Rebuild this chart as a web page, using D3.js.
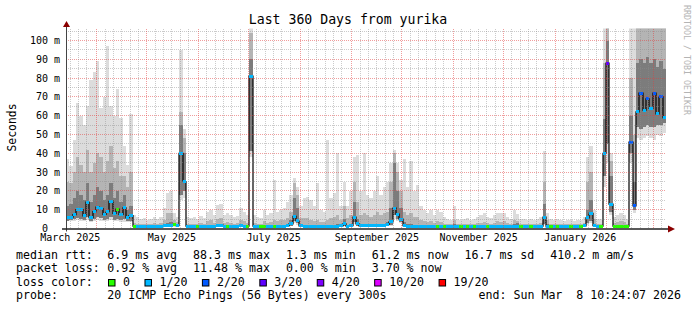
<!DOCTYPE html>
<html><head><meta charset="utf-8">
<script src="https://cdn.jsdelivr.net/npm/d3@7/dist/d3.min.js"></script>
<style>
html,body{margin:0;padding:0;background:#fff;}
svg{display:block;}
text{font-family:"DejaVu Sans Mono",monospace;fill:#000;}
</style></head><body>
<svg id="chart" width="697" height="310"></svg>
<script>
// ---------- data ----------
const END = new Date(2026, 2, 8, 10, 24, 7);
const SPAN_DAYS = 360;
const STEP_DAYS = 2;

const median = [
 5.8,6.0,7.4,10,10,6.7,14,5.8,9.0,11.4,
 10.6,7.5,8.9,14.6,8.0,10.3,7.5,11,5.8,6.8,
 1.3,1.3,1.3,1.3,1.3,1.3,1.3,1.3,1.3,1.4,
 1.5,1.8,2.0,1.5,40,25,1.3,1.3,1.3,1.3,
 1.3,1.3,1.3,1.3,1.3,1.4,1.8,1.3,1.3,1.3,
 1.3,1.3,1.4,1.3,1.3,81,1.3,1.3,1.3,1.3,
 1.3,1.3,1.3,1.3,1.3,1.3,1.4,2.5,6.5,4.0,
 1.4,1.3,1.3,1.3,1.3,1.3,1.3,1.3,1.3,1.3,
 1.3,1.3,1.4,2.5,1.3,1.5,6.0,2.5,1.4,1.4,
 1.4,1.4,1.4,1.4,1.4,1.6,2.2,3.5,10.8,7.6,
 5.0,1.5,1.3,1.3,1.3,1.3,1.3,1.3,1.3,1.3,
 1.3,1.3,1.3,1.3,1.3,1.3,1.3,1.3,1.3,1.3,
 1.3,1.3,1.3,1.3,1.3,1.3,1.3,1.3,1.3,1.3,
 1.3,1.3,1.3,1.3,1.3,1.3,1.3,1.3,1.3,1.3,
 1.3,1.3,1.3,6.0,1.3,1.3,1.3,1.3,1.3,1.3,
 1.3,1.3,1.3,1.3,1.3,1.4,5.6,8.0,1.5,1.3,
 1.3,40,88,13,1.3,1.3,1.3,1.3,1.3,46,
 12,62,72,63,69,64,72,61,70,59
];
const loss = [
 1,1,1,1,1,1,1,1,1,1,
 1,1,1,1,1,0,1,1,1,1,
 0,1,1,1,1,1,1,1,1,1,
 1,1,0,1,1,1,1,1,1,0,
 1,1,1,1,1,1,1,1,0,1,
 1,1,1,1,0,1,1,1,0,0,
 1,1,0,1,1,1,1,1,1,1,
 1,1,1,1,1,1,1,1,1,1,
 1,1,1,1,1,1,1,1,1,1,
 1,1,1,1,1,1,1,1,1,1,
 1,1,1,1,1,1,1,1,1,1,
 1,0,1,0,1,1,1,1,0,1,
 0,1,0,1,1,1,0,1,1,1,
 1,1,1,1,1,1,0,1,1,0,
 1,1,1,1,1,0,1,0,1,1,
 1,0,1,1,0,1,1,1,1,1,
 0,1,3,1,0,0,0,0,0,2,
 2,1,2,1,2,1,2,1,2,1
];
const smokeMin = [
 3.8,4.0,4.2,4.5,4.0,3.8,4.5,3.6,4.0,4.5,
 4.2,3.8,4.0,4.4,3.8,4.0,3.6,3.6,3.4,3.5,
 1,1,1,1,1,1,1,1,1,1,
 1,1,1,1,15,16,1,1,1,1,
 1,1,1,1,1,1,1,1,1,1,
 1,1,1,1,1,38,1,1,1,1,
 1,1,1,1,1,1,1,1.2,3.0,2.0,
 1,1,1,1,1,1,1,1,1,1,
 1,1,1,1.2,1,1,2.5,1.2,1,1,
 1,1,1,1,1,1,1.1,1.5,5.0,4.0,
 3.0,1,1,1,1,1,1,1,1,1,
 1,1,1,1,1,1,1,1,1,1,
 1,1,1,1,1,1,1,1,1,1,
 1,1,1,1,1,1,1,1,1,1,
 1,1,1,2.0,1,1,1,1,1,1,
 1,1,1,1,1,1,2.0,3.0,1,1,
 1,22,35,7,1,1,1,1,1,35,
 8,48,47,48,49,48,47,50,49,51
];
const smokeLo = [
 4.2,4.4,4.8,5.5,5.0,4.5,6.0,4.2,5.0,6.0,
 5.5,4.6,5.0,6.0,4.6,5.2,4.4,5.0,4.0,4.2,
 1.1,1.1,1.1,1.1,1.1,1.1,1.1,1.1,1.1,1.1,
 1.1,1.2,1.2,1.1,18,20,1.1,1.1,1.1,1.1,
 1.1,1.1,1.1,1.1,1.1,1.1,1.2,1.1,1.1,1.1,
 1.1,1.1,1.1,1.1,1.1,41,1.1,1.1,1.1,1.1,
 1.1,1.1,1.1,1.1,1.1,1.1,1.1,1.5,4.0,3.0,
 1.1,1.1,1.1,1.1,1.1,1.1,1.1,1.1,1.1,1.1,
 1.1,1.1,1.1,1.5,1.1,1.2,3.5,1.5,1.1,1.1,
 1.1,1.1,1.1,1.1,1.1,1.2,1.4,2.0,7.0,5.0,
 3.5,1.2,1.1,1.1,1.1,1.1,1.1,1.1,1.1,1.1,
 1.1,1.1,1.1,1.1,1.1,1.1,1.1,1.1,1.1,1.1,
 1.1,1.1,1.1,1.1,1.1,1.1,1.1,1.1,1.1,1.1,
 1.1,1.1,1.1,1.1,1.1,1.1,1.1,1.1,1.1,1.1,
 1.1,1.1,1.1,2.5,1.1,1.1,1.1,1.1,1.1,1.1,
 1.1,1.1,1.1,1.1,1.1,1.1,3.0,4.0,1.2,1.1,
 1.1,28,45,9,1.1,1.1,1.1,1.1,1.1,40,
 10,54,53,54,55,54,54,55,55,56
];
const smokeHi = [
 12,13,16,20,18,15,24,14,18,22,
 20,15,18,24,16,20,14,18,10,12,
 1.8,1.8,1.7,1.8,1.7,1.8,1.8,1.7,1.8,2.0,
 3.0,3.5,2.5,2.2,55,40,1.8,1.7,1.8,1.7,
 1.8,1.7,2.0,2.0,1.8,2.0,2.5,1.8,1.8,1.8,
 1.7,1.8,2.0,2.0,1.8,90,2.0,1.8,1.7,2.0,
 1.8,1.8,2.0,1.8,2.0,2.0,2.0,4.5,16,11,
 2.5,2.0,2.0,2.0,2.0,2.0,1.8,1.8,2.0,2.0,
 2.0,2.2,2.0,5,2.0,2.5,14,5,2.2,2.2,
 2.2,2.0,2.2,2.5,2.2,2.5,3.5,11,35,20,
 11,3.5,2.2,2.2,2.0,2.0,2.0,2.0,1.8,2.0,
 1.8,2.0,2.0,1.8,1.8,1.8,2.2,1.8,1.8,1.8,
 1.8,1.8,1.8,2.0,2.0,2.0,1.8,1.8,2.0,2.0,
 2.0,2.0,1.8,1.8,2.2,3.0,1.8,1.8,1.8,1.8,
 1.8,1.8,1.8,13,2.5,1.8,1.8,1.8,1.8,1.7,
 1.8,1.8,1.7,1.8,1.8,2.0,10,15,2.5,1.8,
 1.8,58,100,28,2,2,2.0,2,1.8,60,
 25,88,90,88,91,88,90,86,89,85
];
const smokeTop = [
 25,24,30,38,34,30,42,30,35,40,
 38,30,36,44,32,36,28,28,22,30,
 2.8,2.6,2.5,2.6,2.5,2.6,2.8,2.6,3.0,4.5,
 8,8,4.5,3.5,62,48,2.6,2.5,2.6,2.5,
 2.8,2.6,4.0,4.5,3.0,5,5.5,3.0,3.5,3.0,
 2.6,2.8,4.5,4.0,3.0,104,3.0,2.6,2.5,4.0,
 3.0,3.5,4.5,4.0,4.5,4.5,5.5,9,24,18,
 5.5,5.5,5.5,4.5,4.0,4.5,3.5,3.5,4.5,5.5,
 6,7,4.5,12,5.5,7,25,14,7,8,
 7,6,7,9,7,8,9,25,40,30,
 20,9,7,8,6,6,4.5,4.0,3.5,4.0,
 3.0,4.0,3.5,2.6,2.6,2.5,4.5,2.6,2.5,2.6,
 2.6,2.5,2.6,2.8,3.0,3.5,2.8,2.6,3.0,4.0,
 3.5,4.0,2.8,2.6,4.5,4.0,2.6,2.6,2.5,2.6,
 2.5,2.6,2.8,25,4.5,2.6,2.5,2.6,2.5,2.4,
 2.5,2.5,2.4,2.5,2.5,2.8,25,30,5,2.6,
 2.6,88,108,36,3.0,3.5,4.0,3.5,2.6,80,
 50,108,108,108,108,108,108,108,108,108
];
const smokeMax = [
 37,33,47,67,60,55,65,79,83,89,
 64,70,97,65,60,74,59,44,34,61,
 7,6,5,5.5,4.5,5,6,5,6,11,
 19,20,8,6,95,53,6,5.5,6,5,
 6.5,5.5,9,10,7,12.5,13,7,8.5,7,
 6,6.5,11,9,7,108,7,6,5.5,10,
 7,8,26,9,10,11,14,18,27,22,
 12,16,17,15,12,24,10,9,47,16,
 19,40,12,25,12,20,38,39,20,40,
 18,16,20,28,18,22,25,35,42,35,
 26,37,22,36,20,23,12,10,8,10,
 7,10,9,6,5,4.5,12,5,4.5,5,
 5.5,4.5,5,6,7,8,6,5.5,7,8.5,
 8,8.5,6,5,10,7.6,5,5,4.5,5,
 4.5,5,6,41,8,5,4.5,5,4.5,4,
 4.5,4.5,4,4.5,4.5,6,38,44,10,5,
 5,108,108,40,6,7,8,7,5,108,
 108,108,108,108,108,108,108,108,108,108
];

const yTickValues = [0,10,20,30,40,50,60,70,80,90,100];
const yTickLabels = ["0\u00a0\u00a0","10 m","20 m","30 m","40 m","50 m","60 m","70 m","80 m","90 m","100 m"];

const lossLevels = [0,1,2,3,4,10,19];
const lossLabels = ["0","1/20","2/20","3/20","4/20","10/20","19/20"];
const lossColors = ["#26ff00","#00b8ff","#0059ff","#5e00ff","#7e00ff","#dd00ff","#ff0000"];

const rttStats = ["6.9 ms avg","88.3 ms max","1.3 ms min","61.2 ms now","16.7 ms sd","410.2 m am/s"];
const lossStats = ["0.92 % avg","11.48 % max","0.00 % min","3.70 % now"];

const titleText = "Last 360 Days from yurika";
const yLabelText = "Seconds";
const probeText = "20 ICMP Echo Pings (56 Bytes) every 300s";
const endText = "end: Sun Mar  8 10:24:07 2026";
const creditText = "RRDTOOL / TOBI OETIKER";

// ---------- layout ----------
const svg = d3.select("#chart");
const PL = 66, PR = 666, PT = 28.5, PB = 228.5;
const start = d3.timeDay.offset(END, -SPAN_DAYS);
const x = d3.scaleTime().domain([start, END]).range([PL, PR]);
const y = d3.scaleLinear().domain([0, 200/1.88]).range([PB, PT]);

const steps = median.map((m, i) => ({
  t0: d3.timeDay.offset(start, i*STEP_DAYS),
  t1: d3.timeDay.offset(start, (i+1)*STEP_DAYS),
  med: m, loss: loss[i],
  min: smokeMin[i], lo: smokeLo[i], hi: smokeHi[i], top: smokeTop[i], max: smokeMax[i]
}));

svg.append("defs").append("clipPath").attr("id","plot")
  .append("rect").attr("x",PL).attr("y",PT).attr("width",PR-PL).attr("height",PB-PT);

const plot = svg.append("g").attr("clip-path","url(#plot)");
const px = t => Math.round(x(t));

// smoke layers
const layers = [
  {a:"min", b:"max", color:"#dcdcdc"},
  {a:"lo",  b:"top", color:"#b4b4b4"},
  {a:"lo",  b:"hi",  color:"#7c7c7c"}
];
layers.forEach(L => {
  plot.append("g").attr("shape-rendering","crispEdges")
    .selectAll("rect").data(steps).join("rect")
    .attr("x", d => px(d.t0))
    .attr("width", d => px(d.t1) - px(d.t0))
    .attr("y", d => y(d[L.b]))
    .attr("height", d => Math.max(0, y(d[L.a]) - y(d[L.b])))
    .attr("fill", L.color);
});

// grid
const grid = svg.append("g").attr("shape-rendering","crispEdges");
const snap = v => Math.round(v - 0.5) + 0.5;
const minorY = d3.range(5, 106, 10);
const MINC = "rgba(140,140,140,0.45)", MAJC = "rgba(225,60,60,0.5)";
grid.selectAll("line.hmin").data(minorY).join("line")
  .attr("x1",PL).attr("x2",PR).attr("y1",d=>snap(y(d))).attr("y2",d=>snap(y(d)))
  .attr("stroke",MINC).attr("stroke-dasharray","1,1");
grid.selectAll("line.hmaj").data(yTickValues.filter(v=>v>0)).join("line")
  .attr("x1",PL).attr("x2",PR).attr("y1",d=>snap(y(d))).attr("y2",d=>snap(y(d)))
  .attr("stroke",MAJC).attr("stroke-dasharray","1,1");
const days = d3.timeDay.range(d3.timeDay.ceil(start), END);
const minorDays = days.filter(d => [6,11,16,21,26].includes(d.getDate()));
const monthDays = d3.timeMonth.range(d3.timeMonth.ceil(start), END);
grid.selectAll("line.vmin").data(minorDays).join("line")
  .attr("x1",d=>snap(x(d))).attr("x2",d=>snap(x(d))).attr("y1",PT).attr("y2",PB)
  .attr("stroke",MINC).attr("stroke-dasharray","1,1");
grid.selectAll("line.vmaj").data(monthDays).join("line")
  .attr("x1",d=>snap(x(d))).attr("x2",d=>snap(x(d))).attr("y1",PT).attr("y2",PB)
  .attr("stroke",MAJC).attr("stroke-dasharray","1,1");

// median line
const pts = steps.map(d => [px(d.t0), y(d.med)]);
pts.push([px(steps[steps.length-1].t1), y(steps[steps.length-1].med)]);
plot.append("path")
  .attr("d", d3.line().curve(d3.curveStepAfter)(pts))
  .attr("fill","none").attr("stroke","#000").attr("stroke-width",1.2);

// loss-coloured median marks
const lossColor = l => { let c = lossColors[0]; lossLevels.forEach((lv,k)=>{ if (l >= lv) c = lossColors[k]; }); return c; };
plot.append("g").attr("shape-rendering","crispEdges")
  .selectAll("rect").data(steps).join("rect")
  .attr("x", d => px(d.t0))
  .attr("width", d => px(d.t1) - px(d.t0))
  .attr("y", d => y(d.med) - 1.5)
  .attr("height", 3)
  .attr("fill", d => lossColor(d.loss));

// axes
svg.append("line").attr("x1",PL+0.5).attr("x2",PL+0.5).attr("y1",PB+3).attr("y2",PT-3)
  .attr("stroke","#444").attr("stroke-width",1);
svg.append("line").attr("x1",PL-4).attr("x2",PR+4).attr("y1",PB+0.5).attr("y2",PB+0.5)
  .attr("stroke","#222").attr("stroke-width",1.4);
svg.append("path").attr("d",`M${PL-3},${PT-1.5}L${PL+0.5},${PT-7.5}L${PL+4},${PT-1.5}Z`).attr("fill","#8b0000");
svg.append("path").attr("d",`M${PR+2},${PB-3}L${PR+9},${PB+0.5}L${PR+2},${PB+4}Z`).attr("fill","#8b0000");

// y tick labels
svg.append("g").selectAll("text").data(yTickValues).join("text")
  .attr("x",60).attr("y",d=>snap(y(d))+3.5).attr("text-anchor","end")
  .style("font-size","10px").text((d,i)=>yTickLabels[i]);

// x labels (every 2 months, centred half a month in, only inside the range)
const labelMonths = d3.timeMonth.every(2).range(d3.timeMonth.floor(start), END)
  .filter(d => d3.timeDay.offset(d, 15) < END);
svg.append("g").selectAll("text").data(labelMonths).join("text")
  .attr("x", d => x(d3.timeDay.offset(d, 15)))
  .attr("y", 241).attr("text-anchor","middle").style("font-size","10px")
  .text(d3.timeFormat("%B %Y"));

// title, y label, credit
svg.append("text").attr("x",348).attr("y",24).attr("text-anchor","middle")
  .style("font-size","13.2px").text(titleText);
svg.append("text").attr("transform","translate(15.5,127.5) rotate(-90)").attr("text-anchor","middle")
  .style("font-size","11.4px").text(yLabelText);
svg.append("text").attr("transform","translate(684,5) rotate(90)")
  .style("font-size","8.3px").style("fill","#b4b4b4").text(creditText);

// legend
const LF = "11.6px", GAP = 16;
function row(yb, label, items){
  svg.append("text").attr("x",16).attr("y",yb).style("font-size",LF).text(label);
  let cx = 107.3;
  items.forEach(s => {
    const t = svg.append("text").attr("x",cx).attr("y",yb).style("font-size",LF)
      .attr("xml:space","preserve").text(s);
    cx += t.node().getComputedTextLength() + GAP;
  });
}
row(258.5, "median rtt:", rttStats);
row(272, "packet loss:", lossStats);
svg.append("text").attr("x",16).attr("y",285.5).style("font-size",LF).text("loss color:");
let lx = 108.5;
lossLabels.forEach((lab,k) => {
  svg.append("rect").attr("x",lx).attr("y",279.5).attr("width",6.5).attr("height",6.5)
    .attr("fill",lossColors[k]).attr("stroke","#000").attr("stroke-width",1);
  const t = svg.append("text").attr("x",lx+14.5).attr("y",285.5).style("font-size",LF).text(lab);
  lx += 14.5 + t.node().getComputedTextLength() + 15;
});
svg.append("text").attr("x",16).attr("y",299).style("font-size",LF).text("probe:");
svg.append("text").attr("x",107.3).attr("y",299).style("font-size",LF).text(probeText);
svg.append("text").attr("x",681).attr("y",299).attr("text-anchor","end").style("font-size",LF)
  .attr("xml:space","preserve").style("white-space","pre").text(endText);
</script>
</body></html>
